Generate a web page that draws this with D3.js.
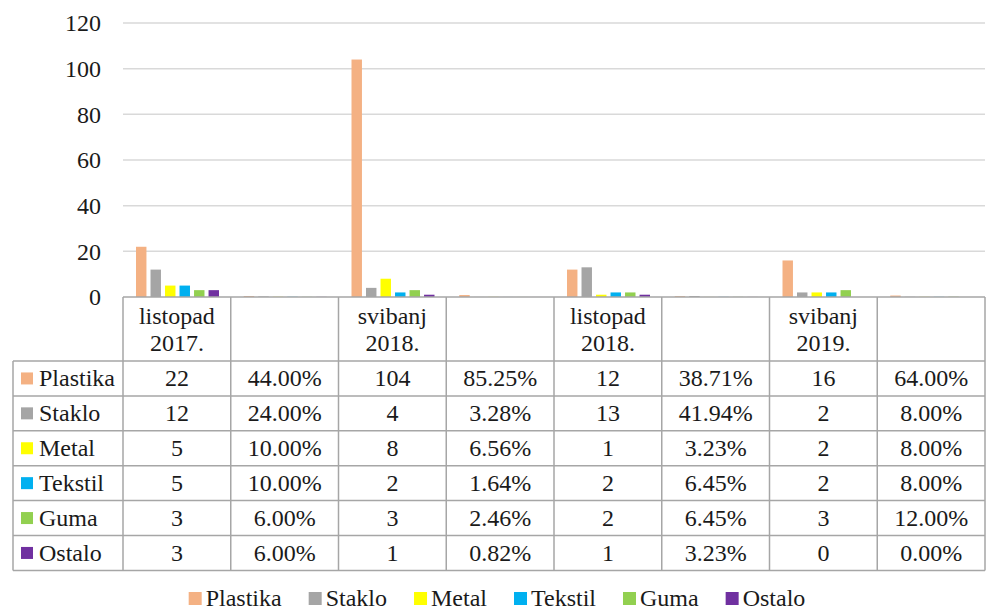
<!DOCTYPE html>
<html>
<head>
<meta charset="utf-8">
<script src="https://cdn.jsdelivr.net/npm/d3@7"></script>
</head>
<body style="margin:0">
<script>
// Columns of the chart (count column, then its share column)
var CATEGORIES = ["listopad 2017.", "", "svibanj 2018.", "", "listopad 2018.", "", "svibanj 2019.", ""];
var IS_PERCENT = [false, true, false, true, false, true, false, true];

var SERIES = ["Plastika", "Staklo", "Metal", "Tekstil", "Guma", "Ostalo"];
var PLASTIKA = [22, 0.44, 104, 0.8525, 12, 0.3871, 16, 0.64];
var STAKLO   = [12, 0.24, 4, 0.0328, 13, 0.4194, 2, 0.08];
var METAL    = [5, 0.10, 8, 0.0656, 1, 0.0323, 2, 0.08];
var TEKSTIL  = [5, 0.10, 2, 0.0164, 2, 0.0645, 2, 0.08];
var GUMA     = [3, 0.06, 3, 0.0246, 2, 0.0645, 3, 0.12];
var OSTALO   = [3, 0.06, 1, 0.0082, 1, 0.0323, 0, 0];

var Y_TICKS = [0, 20, 40, 60, 80, 100, 120];

var SERIES_VALUES = {
    "Plastika": PLASTIKA,
    "Staklo": STAKLO,
    "Metal": METAL,
    "Tekstil": TEKSTIL,
    "Guma": GUMA,
    "Ostalo": OSTALO
};

var SERIES_COLORS = {
    "Plastika": "#F4B183",
    "Staklo": "#A5A5A5",
    "Metal": "#FFFF00",
    "Tekstil": "#00B0F0",
    "Guma": "#92D050",
    "Ostalo": "#7030A0"
};

var FONT = "'Liberation Serif', 'DejaVu Serif'";

var width = 986;
var height = 611;
var plotLeft = 123;
var plotRight = 985;
var plotTop = 23;
var plotBottom = 297;
var tableLeft = 13;
var headerBottom = 361;
var rowHeight = 34.9;
var fontSize = 24;
var textColor = "#1a1a1a";
var gridColor = "#d9d9d9";
var borderColor = "#a6a6a6";

var svg = d3.select("body")
    .append("svg")
        .attr("width", width)
        .attr("height", height);

// helper: every label goes through here so it gets the serif face
const addText = (parent, str) => {
    return parent.append("text")
        .attr("font-size", fontSize)
        .style("font-family", FONT)
        .style("fill", textColor)
        .text(str);
}

var colIdx = d3.range(CATEGORIES.length);
var xScale = d3.scaleBand().domain(colIdx).range([plotLeft, plotRight]).padding(0);
var xInner = d3.scaleBand().domain(SERIES).range([13, 96]).paddingInner(0.28).paddingOuter(0);
var yScale = d3.scaleLinear().domain([0, 120]).range([plotBottom, plotTop]);

// Gridlines
svg.append("g")
    .selectAll("line")
    .data(Y_TICKS.slice(1))
    .join("line")
        .attr("x1", plotLeft)
        .attr("x2", plotRight)
        .attr("y1", (d) => yScale(d))
        .attr("y2", (d) => yScale(d))
        .attr("stroke", gridColor)
        .attr("stroke-width", 1.5);

// Y axis labels
var yAxis = svg.append("g")
    .attr("transform", "translate(" + (plotLeft - 22) + ",0)")
    .call(d3.axisLeft(yScale).tickValues(Y_TICKS).tickSize(0).tickPadding(0));
yAxis.attr("font-family", null).attr("font-size", null);
yAxis.select(".domain").remove();
yAxis.selectAll(".tick text")
    .attr("font-size", fontSize)
    .style("font-family", FONT)
    .style("fill", textColor);

// Bars
SERIES.forEach((s) => {
    svg.append("g")
        .selectAll("rect")
        .data(SERIES_VALUES[s])
        .join("rect")
            .attr("x", (d, i) => xScale(i) + xInner(s))
            .attr("y", (d) => yScale(d))
            .attr("width", xInner.bandwidth())
            .attr("height", (d) => yScale(0) - yScale(d))
            .attr("fill", SERIES_COLORS[s]);
});

// Table lines
var tableBottom = headerBottom + rowHeight * SERIES.length;
var lines = svg.append("g").attr("stroke", borderColor).attr("stroke-width", 1.5);
lines.append("line").attr("x1", plotLeft).attr("x2", plotRight)
    .attr("y1", plotBottom).attr("y2", plotBottom);
d3.range(SERIES.length + 1).forEach((r) => {
    lines.append("line")
        .attr("x1", tableLeft).attr("x2", plotRight)
        .attr("y1", headerBottom + r * rowHeight).attr("y2", headerBottom + r * rowHeight);
});
colIdx.concat([CATEGORIES.length]).forEach((i) => {
    var x = i < CATEGORIES.length ? xScale(i) : plotRight;
    lines.append("line")
        .attr("x1", x).attr("x2", x)
        .attr("y1", plotBottom).attr("y2", tableBottom);
});
lines.append("line").attr("x1", tableLeft).attr("x2", tableLeft)
    .attr("y1", headerBottom).attr("y2", tableBottom);

// Header text (two lines each)
colIdx.forEach((i) => {
    if(!CATEGORIES[i]) return;
    var cx = xScale(i) + xScale.bandwidth() / 2;
    CATEGORIES[i].split(" ").forEach((p, k) => {
        addText(svg, p)
            .attr("text-anchor", "middle")
            .attr("x", cx)
            .attr("y", 324 + k * 27);
    });
});

// Row labels and values
SERIES.forEach((s, r) => {
    var cy = headerBottom + r * rowHeight + rowHeight / 2;
    svg.append("rect")
        .attr("x", 21)
        .attr("y", cy - 6)
        .attr("width", 12)
        .attr("height", 12)
        .attr("fill", SERIES_COLORS[s]);
    addText(svg, s)
        .attr("x", 39)
        .attr("y", cy + 8);
    SERIES_VALUES[s].forEach((v, i) => {
        addText(svg, IS_PERCENT[i] ? (v * 100).toFixed(2) + "%" : v)
            .attr("text-anchor", "middle")
            .attr("x", xScale(i) + xScale.bandwidth() / 2)
            .attr("y", cy + 8);
    });
});

// Legend
var legend = svg.append("g");
var lx = 0;
SERIES.forEach((s) => {
    var item = legend.append("g").attr("transform", "translate(" + lx + ",0)");
    item.append("rect")
        .attr("x", 0)
        .attr("y", -6)
        .attr("width", 13)
        .attr("height", 13)
        .attr("fill", SERIES_COLORS[s]);
    var t = addText(item, s)
        .attr("x", 17)
        .attr("y", 8);
    lx += 17 + t.node().getComputedTextLength() + 27;
});
var legendWidth = lx - 27;
legend.attr("transform", "translate(" + (497 - legendWidth / 2) + ",598)");
</script>
</body>
</html>
